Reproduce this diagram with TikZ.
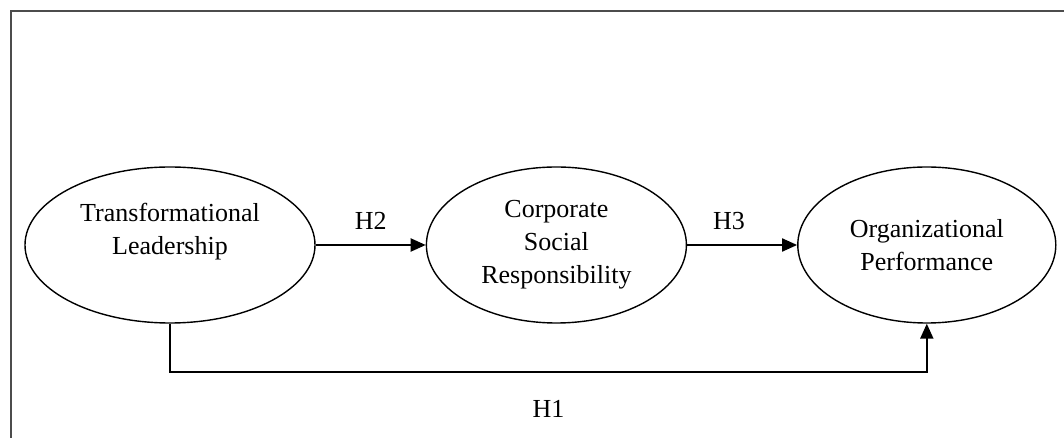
\documentclass[tikz,border=0pt]{standalone}
\usepackage{fontspec}
\setmainfont{Liberation Serif}
\usetikzlibrary{arrows.meta,shapes.geometric,positioning}

\begin{document}
\begin{tikzpicture}[
        node distance=55pt,
        construct/.style={draw, ellipse, line width=0.7pt, align=center, inner sep=0pt, minimum height=78pt, font=\fontsize{13}{16.5}\selectfont},
        hyp/.style={font=\fontsize{13}{16.5}\selectfont, inner sep=3pt},
        link/.style={line width=1pt, -{Triangle[length=7.5pt,width=6.5pt]}}
    ]
    \useasboundingbox (0,0) rectangle (532pt,219pt);

    % Frame
    \draw[line width=1.2pt, black!70] (5.5pt,0) -- (5.5pt,213.5pt) -- (532pt,213.5pt);

    % Nodes
    \node[construct, minimum width=145pt] (tl) at (85pt,96.5pt) {Transformational \\ Leadership \\ \mbox{}};
    \node[construct, minimum width=130pt, right=of tl] (csr) {Corporate \\ Social \\ Responsibility};
    \node[construct, minimum width=129pt, right=of csr] (op) {Organizational \\ Performance};

    % Edges
    \draw[link] (tl) -- node[hyp, midway, above, yshift=4pt] {H2} (csr);
    \draw[link] (csr) -- node[hyp, pos=.38, above, yshift=4pt] {H3} (op);
    \draw[link] (tl.south) -- ++(0,-24pt) -| node[hyp, pos=.25, below=11pt] {H1} (op.south);

\end{tikzpicture}
\end{document}
